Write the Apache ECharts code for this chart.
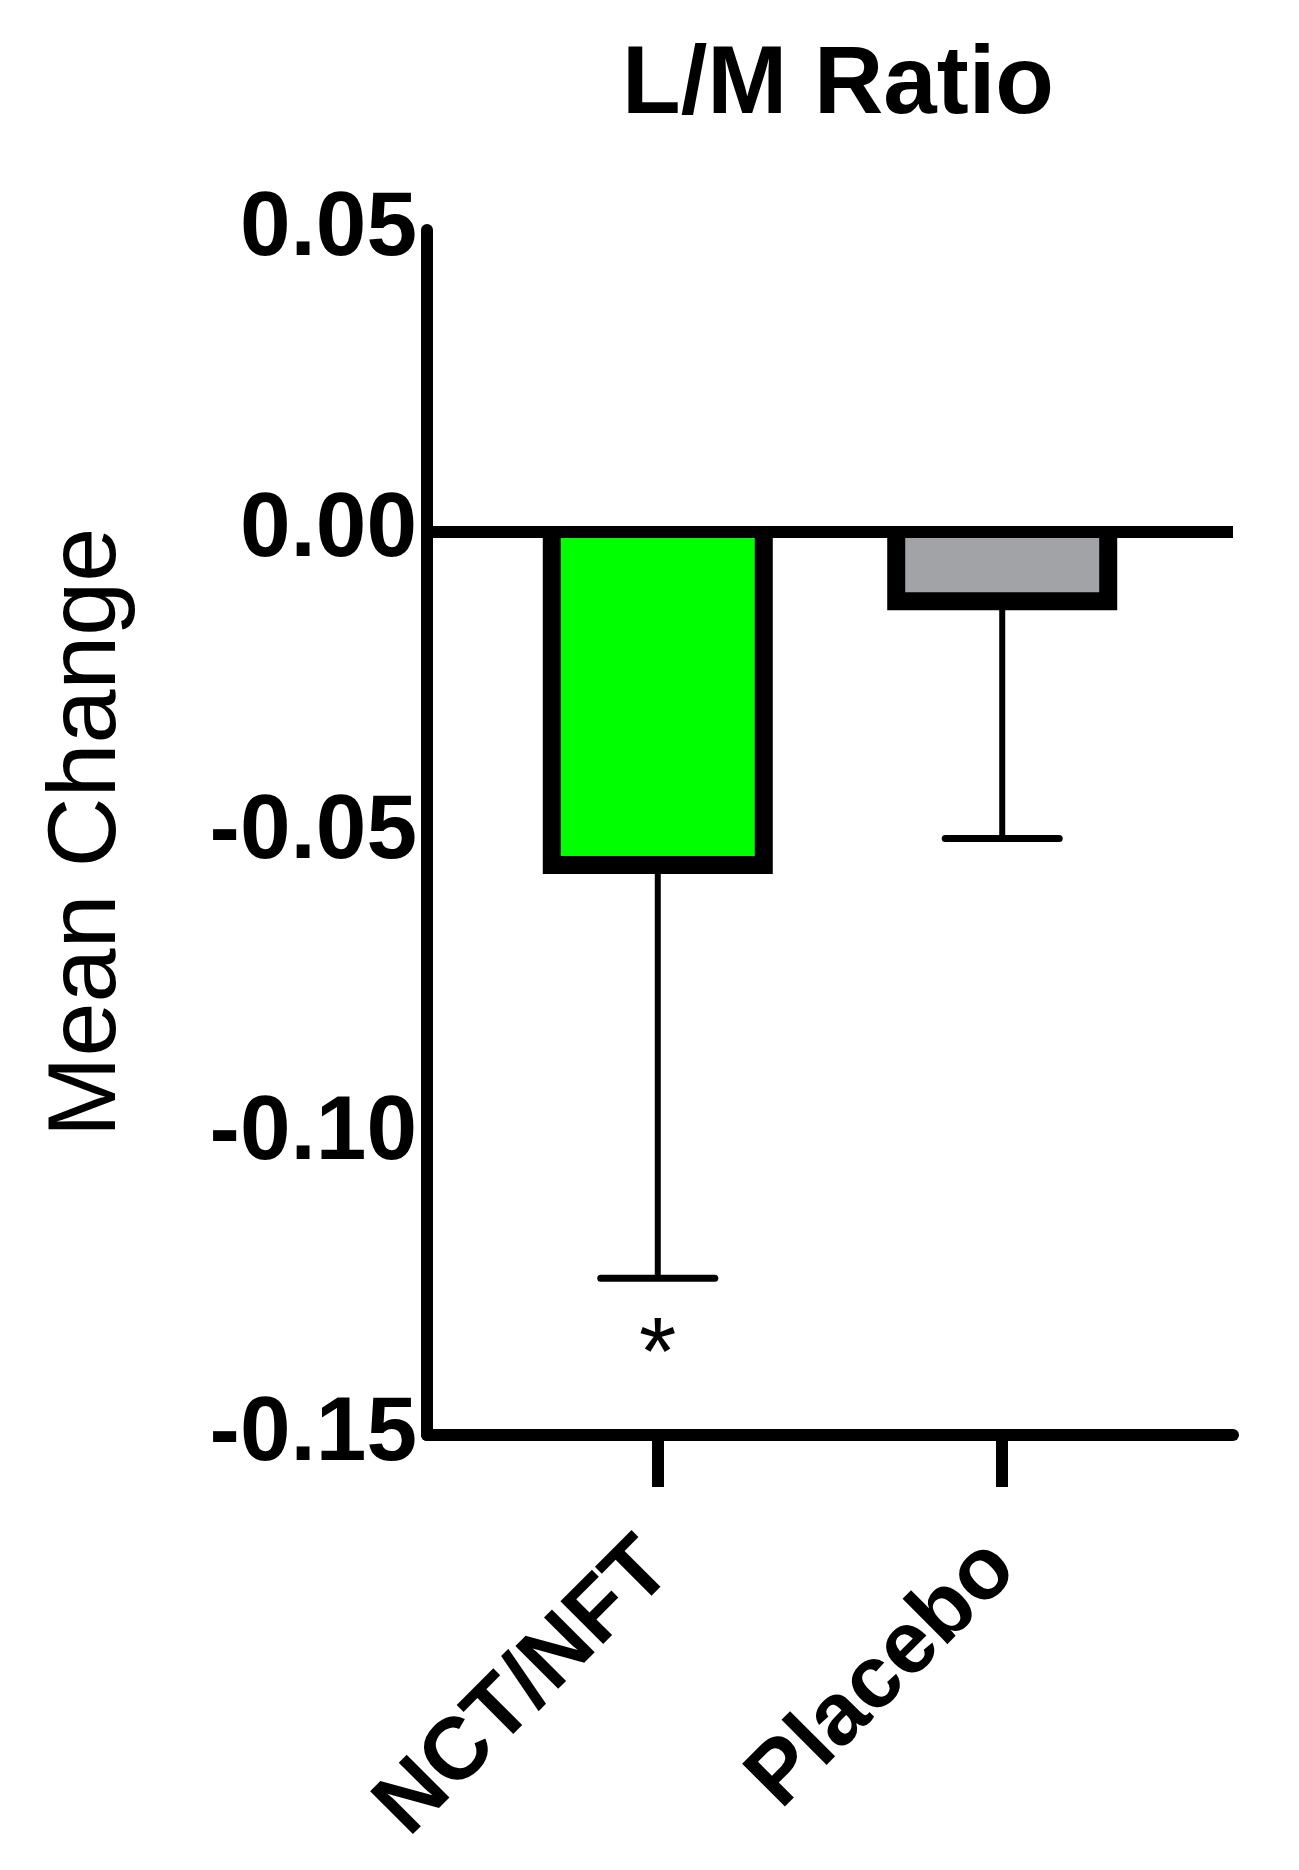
<!DOCTYPE html>
<html>
<head>
<meta charset="utf-8">
<script src="https://cdn.jsdelivr.net/npm/echarts@6/dist/echarts.min.js"></script>
<style>
html,body{margin:0;padding:0;background:#fff;}
#chart{width:1299px;height:1870px;}
</style>
</head>
<body>
<div id="chart"></div>
<script>
// ---- data ----
const categories = ['NCT/NFT', 'Placebo'];
const catPositions = [0, 1];
const means = [-0.0554, -0.0116];
const errEnds = [-0.124, -0.051];
const significance = ['*', ''];
const barColors = ['#00ff00', '#a2a3a7'];
const yMin = -0.15, yMax = 0.05, yInterval = 0.05;
const yTickLabels = ['-0.15', '-0.10', '-0.05', '0.00', '0.05'];
const titleText = 'L/M Ratio';
const yName = 'Mean Change';

const FONT = '"Liberation Sans", Arial, Helvetica, sans-serif';

const chart = echarts.init(document.getElementById('chart'), null, {renderer: 'canvas'});

const option = {
  backgroundColor: '#ffffff',
  animation: false,
  title: {
    text: titleText,
    left: 833,
    top: 34,
    textAlign: 'center',
    textStyle: {fontFamily: FONT, fontWeight: 'bold', fontSize: 96, color: '#000'}
  },
  grid: {left: 427, right: 66, top: 230, bottom: 435, containLabel: false, outerBoundsMode: 'none'},
  xAxis: {
    type: 'value',
    min: -0.67,
    max: 1.67,
    splitLine: {show: false},
    axisLine: {show: true, onZero: false, lineStyle: {color: '#000', width: 12}},
    axisTick: {show: true, customValues: catPositions, length: 52, lineStyle: {color: '#000', width: 12}},
    axisLabel: {
      show: true,
      customValues: catPositions,
      rotate: 45,
      margin: 120,
      fontFamily: FONT, fontWeight: 'bold', fontSize: 88, color: '#000',
      formatter: function (v) { return categories[Math.round(v)]; }
    }
  },
  yAxis: {
    type: 'value',
    min: yMin,
    max: yMax,
    interval: yInterval,
    splitLine: {show: false},
    axisLine: {show: true, onZero: false, lineStyle: {color: '#000', width: 12}},
    axisTick: {show: false},
    axisLabel: {
      margin: 10,
      padding: [12, 0, 0, 0],
      fontFamily: FONT, fontWeight: 'bold', fontSize: 91, color: '#000',
      formatter: function (v) { return yTickLabels[Math.round((v - yMin) / yInterval)]; }
    },
    name: yName,
    nameLocation: 'middle',
    nameRotate: 90,
    nameGap: 290,
    nameTextStyle: {fontFamily: FONT, fontWeight: 'normal', fontSize: 97, color: '#000'}
  },
  series: [
    {
      type: 'custom',
      z: 1,
      data: catPositions.map((p, i) => [p, means[i], errEnds[i], i]),
      renderItem: function (params, api) {
        const x = api.value(0), m = api.value(1), e = api.value(2);
        const i = api.value(3);
        const p0 = api.coord([x, m]);
        const p1 = api.coord([x, e]);
        const cap = 60;
        const children = [
          {type: 'line', shape: {x1: p0[0], y1: p0[1], x2: p1[0], y2: p1[1]}, style: {stroke: '#000', lineWidth: 6}},
          {type: 'line', shape: {x1: p1[0] - cap + 3, y1: p1[1], x2: p1[0] + cap - 3, y2: p1[1]}, style: {stroke: '#000', lineWidth: 7, lineCap: 'round'}}
        ];
        if (significance[i]) {
          children.push({
            type: 'text',
            x: p1[0], y: p1[1] + 79,
            style: {text: significance[i], fill: '#000', fontFamily: FONT, fontSize: 96, textAlign: 'center', textVerticalAlign: 'middle'}
          });
        }
        return {type: 'group', children: children};
      }
    },
    {
      type: 'custom',
      z: 2,
      data: catPositions.map((p, i) => [p, means[i], i]),
      renderItem: function (params, api) {
        const x = api.value(0), v = api.value(1), i = api.value(2);
        const top = api.coord([x, 0]);
        const bot = api.coord([x, v]);
        const w = 212;
        const xl = top[0] - w / 2, xr = top[0] + w / 2;
        return {
          type: 'group',
          children: [
            {type: 'rect', shape: {x: xl, y: top[1], width: w, height: bot[1] - top[1]}, style: {fill: barColors[i]}},
            {type: 'polyline', shape: {points: [[xl, top[1]], [xl, bot[1]], [xr, bot[1]], [xr, top[1]]]},
             style: {stroke: '#000', fill: null, lineWidth: 18, lineJoin: 'miter', lineCap: 'butt'}}
          ]
        };
      },
      markLine: {
        silent: true,
        symbol: 'none',
        label: {show: false},
        lineStyle: {color: '#000', width: 12, type: 'solid'},
        data: [{yAxis: 0}]
      }
    }
  ]
};
chart.setOption(option);
</script>
</body>
</html>
